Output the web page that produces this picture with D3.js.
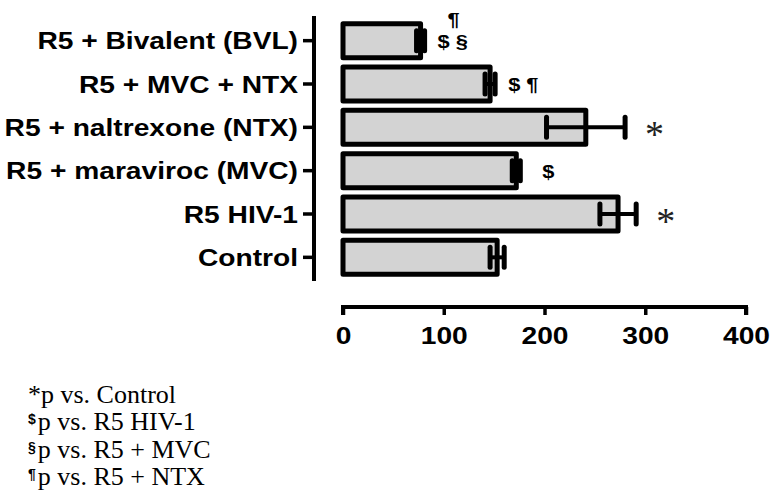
<!DOCTYPE html>
<html><head><meta charset="utf-8">
<script src="https://cdn.jsdelivr.net/npm/d3@7"></script>
<style>body{margin:0;background:#fff}svg{display:block}</style>
</head><body><svg id="c" width="771" height="491"></svg>
<script>
// ---- data ----
const categories = ["R5 + Bivalent (BVL)", "R5 + MVC + NTX", "R5 + naltrexone (NTX)", "R5 + maraviroc (MVC)", "R5 HIV-1", "Control"];
const means  = [77, 146, 241, 172, 273, 153];
const errors = [4, 5, 39, 4, 18, 7];
const sideMarks = ["$ §", "$ ¶", "*", "$", "*", ""];
const topMarks  = ["¶", "", "", "", "", ""];
const xTicks = [0, 100, 200, 300, 400];
const legendSymbols = ["*", "$", "§", "¶"];
const legendTexts = ["p vs. Control", "p vs. R5 HIV-1", "p vs. R5 + MVC", "p vs. R5 + NTX"];

// ---- drawing ----
const svg = d3.select("#c");
const SX = 1.15;
const SANS = "Liberation Sans, Arial, sans-serif";
const SERIF = "Liberation Serif, Times New Roman, serif";
const x = d3.scaleLinear().domain([0, 400]).range([343, 746]);
const y = d3.scaleBand().domain(categories).range([19, 279]);
const data = categories.map((c, i) => ({c, m: means[i], e: errors[i], s: sideMarks[i], t: topMarks[i]}));
const barH = 34;

// y axis
const yAxis = svg.append("g").attr("transform", "translate(314,0)")
  .call(d3.axisLeft(y).tickSize(11).tickSizeOuter(0).tickPadding(5));
yAxis.select(".domain").attr("d", "M0,16V281").attr("stroke", "#000").attr("stroke-width", 4);
yAxis.selectAll(".tick line").attr("stroke", "#000").attr("stroke-width", 3.5);
yAxis.selectAll(".tick text")
  .attr("font-family", SANS)
  .attr("font-weight", "bold").attr("font-size", 24.5).attr("fill", "#000")
  .attr("x", 0).attr("dy", "0.35em")
  .attr("transform", `translate(-16,0) scale(${SX},1)`);

// x axis
const xAxis = svg.append("g").attr("transform", "translate(0,307)")
  .call(d3.axisBottom(x).tickValues(xTicks).tickSize(8).tickSizeOuter(0).tickPadding(12).tickFormat(d3.format("d")));
xAxis.select(".domain").attr("d", `M${x(0)},8V0H${x(400)}V8`).attr("stroke", "#000").attr("stroke-width", 4).attr("fill", "none");
xAxis.selectAll(".tick line").attr("stroke", "#000").attr("stroke-width", 3.5);
xAxis.selectAll(".tick text")
  .attr("font-family", SANS)
  .attr("font-weight", "bold").attr("font-size", 24.5).attr("fill", "#000")
  .attr("transform", `scale(${SX},1)`);

// bars
const g = svg.append("g");
g.selectAll("rect.bar").data(data).join("rect").attr("class", "bar")
  .attr("x", x(0))
  .attr("y", d => y(d.c) + (y.bandwidth() - barH) / 2)
  .attr("width", d => x(d.m) - x(0))
  .attr("height", barH)
  .attr("fill", "#d3d3d3").attr("stroke", "#000").attr("stroke-width", 5)
  .attr("stroke-linejoin", "round");

// error bars
const cy = d => y(d.c) + y.bandwidth() / 2;
g.selectAll("line.err").data(data).join("line").attr("class", "err")
  .attr("x1", d => x(d.m - d.e)).attr("x2", d => x(d.m + d.e))
  .attr("y1", cy).attr("y2", cy)
  .attr("stroke", "#000").attr("stroke-width", 4);
["lo", "hi"].forEach(k => {
  g.selectAll("line.cap" + k).data(data).join("line").attr("class", "cap" + k)
    .attr("x1", d => x(k === "lo" ? d.m - d.e : d.m + d.e))
    .attr("x2", d => x(k === "lo" ? d.m - d.e : d.m + d.e))
    .attr("y1", d => cy(d) - 10).attr("y2", d => cy(d) + 10)
    .attr("stroke", "#000").attr("stroke-width", 5).attr("stroke-linecap", "round");
});

// significance marks
const markGap = {"$ §": 13, "$ ¶": 13, "$": 22, "*": 20};
data.filter(d => d.s).forEach(d => {
  const xx = x(d.m + d.e) + markGap[d.s];
  if (d.s === "*") {
    svg.append("text").attr("x", xx).attr("y", cy(d) + 20)
      .attr("font-family", SERIF)
      .attr("font-size", 38).attr("fill", "#222").text(d.s);
  } else {
    svg.append("text").attr("transform", `translate(${xx},${cy(d) + 7}) scale(${SX},1)`)
      .attr("font-family", SANS).attr("font-weight", "bold")
      .attr("font-size", 19).attr("fill", "#000").text(d.s);
  }
});
data.filter(d => d.t).forEach(d => {
  svg.append("text").attr("transform", `translate(${x(d.m + d.e) + 23},${y(d.c) + 7}) scale(${SX},1)`)
    .attr("font-family", SANS).attr("font-weight", "bold")
    .attr("font-size", 19).attr("fill", "#000").text(d.t);
});

// legend
const leg = svg.append("g").attr("transform", "translate(28,403)");
legendTexts.forEach((t, i) => {
  const txt = leg.append("text").attr("x", 0).attr("y", i * 27.4)
    .attr("font-family", SERIF).attr("font-size", 26).attr("fill", "#000");
  if (legendSymbols[i] === "*") {
    txt.append("tspan").text("*");
    txt.append("tspan").text(t);
  } else {
    txt.append("tspan").attr("font-family", SANS).attr("font-weight", "bold")
      .attr("font-size", 14).attr("dy", -6).text(legendSymbols[i]);
    txt.append("tspan").attr("dy", 6).attr("dx", 2).text(t);
  }
});
</script>
</body></html>
